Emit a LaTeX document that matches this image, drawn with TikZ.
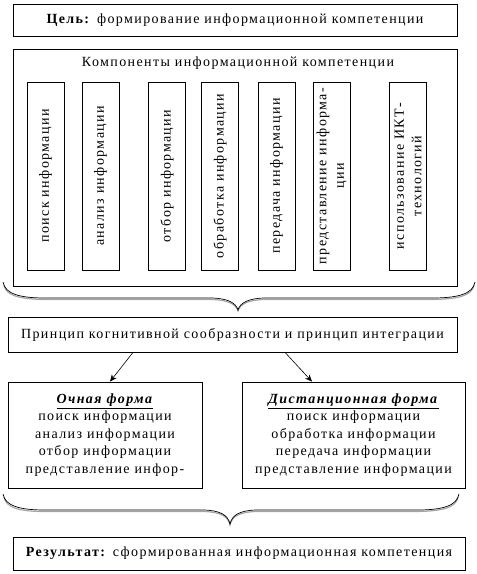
\documentclass[tikz,border=0pt]{standalone}
\usepackage{fontspec}
\setmainfont{Liberation Serif}[LetterSpace=10]
\usetikzlibrary{arrows.meta}
\tikzset{
  box/.style={draw, line width=0.8pt, inner sep=2pt, align=center},
  vbox/.style={box, rotate=90, minimum width=188pt, minimum height=37pt},
  arr/.style={-{Stealth[length=7pt,width=6pt]}, line width=0.6pt},
  brace/.style={line width=0.7pt},
  braceshadow/.style={line width=1.2pt, gray!70},
}
\begin{document}
\begin{tikzpicture}[x=1pt,y=-1pt,font=\fontsize{14}{17.5}\selectfont]
\useasboundingbox (0,0) rectangle (477,574);
% goal
\node[box, minimum width=444pt, minimum height=32pt] (goal) at (235,20) {\textbf{Цель:} формирование информационной компетенции};
% components frame
\node[draw, line width=0.8pt, minimum width=444pt, minimum height=237pt] (comp) at (235,167.5) {};
\node[anchor=center, inner sep=0pt] (comptitle) at (238,63) {Компоненты информационной компетенции};
% vertical boxes
\node[vbox] (c1) at (45.5,176) {поиск информации};
\node[vbox] (c2) at (100.5,176) {анализ информации};
\node[vbox] (c3) at (167,176) {отбор информации};
\node[vbox] (c4) at (220,176) {обработка информации};
\node[vbox] (c5) at (276.5,176) {передача информации};
\node[vbox] (c6) at (331.5,176) {представление информа-\\ции};
\node[vbox] (c7) at (408,176) {использование ИКТ-\\технологий};
% brace 1
\coordinate (b1l) at (3,282);
\coordinate (b1t) at (238,310);
\coordinate (b1r) at (475,282);
\draw[braceshadow] (4,285) .. controls (6,296) and (20,299) .. (45,299.5) -- (212,299.5) .. controls (228,300) and (236,304) .. (238,311)
  .. controls (240,304) and (248,300) .. (264,299.5) -- (432,299.5) .. controls (458,299) and (472,296) .. (474,285);
\draw[brace] (b1l) .. controls (5,294) and (20,298) .. (45,298) -- (212,298) .. controls (228,298.5) and (236,303) .. (b1t)
  .. controls (240,303) and (248,298.5) .. (264,298) -- (432,298) .. controls (458,298) and (473,294) .. (b1r);
% principle
\node[box, minimum width=449pt, minimum height=35pt] (princ) at (232.5,334.5) {Принцип когнитивной сообразности и принцип интеграции};
% forms
\node[box, minimum width=194pt, minimum height=106pt] (full) at (105,435)
  {\underline{\textbf{\textit{Очная форма}}}\\поиск информации\\анализ информации\\отбор информации\\представление инфор-};
\node[box, minimum width=223pt, minimum height=106pt] (dist) at (353.5,435)
  {\underline{\textbf{\textit{Дистанционная форма}}}\\поиск информации\\обработка информации\\передача информации\\представление информации};
\draw[arr] (princ.south -| 133,0) -- (full.north -| 110,0);
\draw[arr] (princ.south -| 285,0) -- (dist.north -| 312,0);
% brace 2
\coordinate (b2l) at (3,494);
\coordinate (b2t) at (230,524);
\coordinate (b2r) at (459,494);
\draw[braceshadow] (4,497) .. controls (6,508) and (20,511.5) .. (45,511.5) -- (204,511.5) .. controls (220,512) and (228,516) .. (230,525)
  .. controls (232,516) and (240,512) .. (256,511.5) -- (417,511.5) .. controls (442,511) and (456,508) .. (458,497);
\draw[brace] (b2l) .. controls (5,506) and (20,510) .. (45,510) -- (204,510) .. controls (220,510.5) and (228,515) .. (b2t)
  .. controls (232,515) and (240,510.5) .. (256,510) -- (417,510) .. controls (442,510) and (457,506) .. (b2r);
% result
\node[box, minimum width=452pt, minimum height=33pt] (res) at (239,553.5) {\textbf{Результат:} сформированная информационная компетенция};
\end{tikzpicture}
\end{document}
